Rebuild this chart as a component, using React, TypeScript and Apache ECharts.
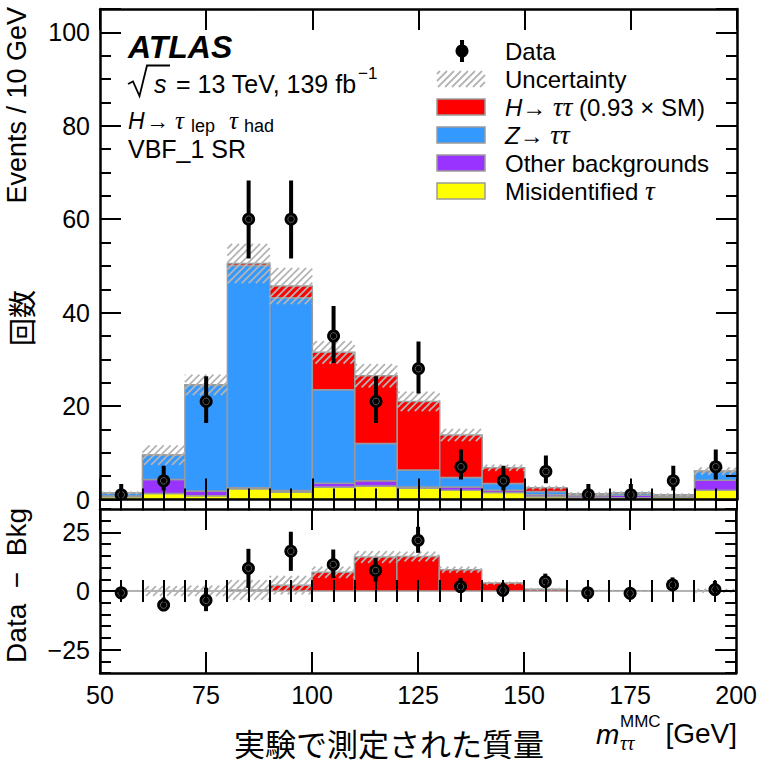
import React, { useEffect, useRef } from "react";
import * as echarts from "echarts";

// ---------- data ----------
const binLow = [50, 60, 70, 80, 90, 100, 110, 120, 130, 140, 150, 160, 170, 180, 190];
const binWidth = 10;
const binCenters = [55, 65, 75, 85, 95, 105, 115, 125, 135, 145, 155, 165, 175, 185, 195];

const misidTau = [0.6, 1.3, 0.8, 2.3, 1.6, 2.7, 2.9, 2.4, 2.0, 1.5, 0.6, 0.4, 0.4, 0.5, 2.0];
const otherBkg = [0.15, 3.0, 1.0, 0.2, 0.3, 0.8, 1.1, 0.3, 0.7, 0.5, 0.4, 0.4, 0.5, 0.3, 2.1];
const zTauTau = [0.6, 5.2, 22.7, 47.6, 41.3, 20.0, 8.0, 3.6, 2.0, 1.4, 0.7, 0.3, 0.45, 0.15, 1.9];
const hTauTau = [0.05, 0.0, 0.05, 0.4, 2.5, 8.0, 14.5, 14.7, 9.1, 3.4, 0.8, 0.15, 0.1, 0.05, 0.1];
const uncertainty = [0.3, 2.1, 2.2, 4.2, 3.9, 2.4, 2.5, 2.1, 1.3, 0.65, 0.4, 0.3, 0.3, 0.3, 0.8];

const dataCounts = [1, 4, 21, 60, 60, 35, 21, 28, 7, 4, 6, 1, 1, 4, 7];
const dataLow = [0.17, 1.9, 16.4, 51.6, 51.6, 29.2, 16.4, 22.7, 4.3, 1.9, 3.5, 0.17, 0.17, 1.9, 4.3];
const dataHigh = [3.3, 7.2, 26.4, 68.3, 68.3, 41.4, 26.4, 33.8, 10.7, 7.2, 9.4, 3.3, 3.3, 7.2, 10.7];

const diffValues = [-0.8, -6.0, -4.0, 9.7, 17.0, 11.3, 8.7, 21.6, 1.9, 0.3, 4.0, -0.8, -1.0, 2.6, 0.6];
const diffLow = [-1.6, -8.1, -8.6, 1.3, 8.6, 5.5, 4.1, 16.3, -0.8, -1.8, 1.5, -1.6, -1.8, 0.5, -2.1];
const diffHigh = [1.5, -2.8, 1.4, 18.0, 25.3, 17.7, 14.1, 27.4, 5.6, 3.5, 7.4, 1.5, 1.3, 5.8, 4.3];

const xTicksMajor = [50, 75, 100, 125, 150, 175, 200];
const yTicksUpper = [0, 20, 40, 60, 80, 100];
const yTicksLower = [-25, 0, 25];

const componentColors = ["#ffff00", "#9933ff", "#3399ff", "#ff0000"];
const components = [misidTau, otherBkg, zTauTau, hTauTau];

// ---------- styling ----------
const FONT = "'Liberation Sans', Arial, Helvetica, sans-serif";
const SERIF = "'Liberation Serif', 'DejaVu Serif', serif";
const CJK = "'Noto Sans CJK JP', 'Noto Sans CJK SC', sans-serif";
const HATCH = "#b4b4b4";
const OUTLINE = "#9a9a9a";

function hatchGroup(x0: number, x1: number, yTop: number, yBot: number) {
  const step = 7;
  const children: any[] = [];
  const cStart = Math.ceil((x0 + yTop) / step) * step;
  for (let c = cStart; c <= x1 + yBot; c += step) {
    const xa = Math.max(x0, c - yBot);
    const xb = Math.min(x1, c - yTop);
    if (xb > xa + 0.3) {
      children.push({
        type: "line",
        shape: { x1: xa, y1: c - xa, x2: xb, y2: c - xb },
        style: { stroke: HATCH, lineWidth: 1.8 },
      });
    }
  }
  return { type: "group", children };
}

const rectRender = (params: any, api: any) => {
  const p0 = api.coord([api.value(0), api.value(2)]);
  const p1 = api.coord([api.value(1), api.value(3)]);
  const ci = api.value(4);
  return {
    type: "rect",
    shape: { x: p0[0], y: p1[1], width: p1[0] - p0[0], height: p0[1] - p1[1] },
    style: { fill: componentColors[ci], stroke: OUTLINE, lineWidth: 1.5 },
  };
};

const hatchRender = (params: any, api: any) => {
  const p0 = api.coord([api.value(0), api.value(2)]);
  const p1 = api.coord([api.value(1), api.value(3)]);
  return hatchGroup(p0[0], p1[0], p1[1], p0[1]);
};

const dataRender = (params: any, api: any) => {
  const c = api.coord([api.value(0), api.value(1)]);
  const lo = api.coord([api.value(0), api.value(2)]);
  const hi = api.coord([api.value(0), api.value(3)]);
  return {
    type: "group",
    children: [
      { type: "line", shape: { x1: c[0], y1: lo[1], x2: c[0], y2: hi[1] }, style: { stroke: "#000", lineWidth: 4 } },
      { type: "circle", shape: { cx: c[0], cy: c[1], r: 6.5 }, style: { fill: "#000" } },
      { type: "circle", shape: { cx: c[0], cy: c[1], r: 3.3 }, style: { fill: "none", stroke: "#5a5a5a", lineWidth: 1 } },
    ],
  };
};

function buildOption() {
  const stackData: any[] = [];
  const totals: number[] = [];
  binLow.forEach((lo, i) => {
    let base = 0;
    components.forEach((arr, k) => {
      stackData.push([lo, lo + binWidth, base, base + arr[i], k]);
      base += arr[i];
    });
    totals.push(base);
  });
  const upperHatch = binLow.map((lo, i) => [lo, lo + binWidth, totals[i] - uncertainty[i], totals[i] + uncertainty[i]]);
  const upperData = binCenters.map((x, i) => [x, dataCounts[i], dataLow[i], dataHigh[i]]);
  const lowerSignal = binLow.map((lo, i) => [lo, lo + binWidth, 0, hTauTau[i], 3]);
  const lowerHatch = binLow.map((lo, i) => [lo, lo + binWidth, hTauTau[i] - uncertainty[i], hTauTau[i] + uncertainty[i]]);
  const lowerData = binCenters.map((x, i) => [x, diffValues[i], diffLow[i], diffHigh[i]]);

  const line = { show: true, onZero: false, lineStyle: { color: "#000", width: 2.5 } };
  const noLine = { show: false };
  const tick = (len: number, vals?: number[]) => ({
    show: true,
    inside: true,
    length: len,
    lineStyle: { color: "#000", width: 2 },
    ...(vals ? { customValues: vals } : {}),
  });
  const fmt = (v: number) => (v < 0 ? "\u2212" + Math.abs(v) : String(v));
  const labelOff = { show: false };
  const labelStyle = { fontFamily: FONT, fontSize: 25, color: "#000" };

  const xBase = { type: "value", min: 50, max: 200, splitLine: { show: false }, z: 10 };
  const xAxis: any[] = [];
  [0, 1].forEach((g) => {
    xAxis.push({ ...xBase, gridIndex: g, position: "bottom", interval: 25, axisLine: line, axisTick: tick(21),
      axisLabel: g === 1 ? { ...labelStyle, show: true, margin: 9, customValues: xTicksMajor } : labelOff });
    xAxis.push({ ...xBase, gridIndex: g, position: "bottom", interval: 5, axisLine: noLine, axisTick: tick(11), axisLabel: labelOff });
    xAxis.push({ ...xBase, gridIndex: g, position: "top", interval: 25, axisLine: line, axisTick: tick(21), axisLabel: labelOff });
    xAxis.push({ ...xBase, gridIndex: g, position: "top", interval: 5, axisLine: noLine, axisTick: tick(11), axisLabel: labelOff });
  });

  const yU = { type: "value", min: 0, max: 105, splitLine: { show: false }, z: 10, gridIndex: 0 };
  const yL = { type: "value", min: -35, max: 35, splitLine: { show: false }, z: 10, gridIndex: 1 };
  const yAxis: any[] = [
    { ...yU, position: "left", interval: 20, axisLine: line, axisTick: tick(21),
      axisLabel: { ...labelStyle, show: true, margin: 10, customValues: yTicksUpper } },
    { ...yU, position: "left", interval: 5, axisLine: noLine, axisTick: tick(11), axisLabel: labelOff },
    { ...yU, position: "right", interval: 20, axisLine: line, axisTick: tick(21), axisLabel: labelOff },
    { ...yU, position: "right", interval: 5, axisLine: noLine, axisTick: tick(11), axisLabel: labelOff },
    { ...yL, position: "left", axisLine: line, axisTick: tick(21, yTicksLower),
      axisLabel: { ...labelStyle, show: true, margin: 10, customValues: yTicksLower, formatter: fmt } },
    { ...yL, position: "left", interval: 5, axisLine: noLine, axisTick: tick(11), axisLabel: labelOff },
    { ...yL, position: "right", axisLine: line, axisTick: tick(21, yTicksLower), axisLabel: labelOff },
    { ...yL, position: "right", interval: 5, axisLine: noLine, axisTick: tick(11), axisLabel: labelOff },
  ];

  const custom = (name: string, data: any[], render: any, xi: number, yi: number, z: number) => ({
    type: "custom",
    name,
    data,
    renderItem: render,
    xAxisIndex: xi,
    yAxisIndex: yi,
    z,
    silent: true,
    clip: true,
    encode: { x: [0, 1], y: [2, 3] },
  });

  const series: any[] = [
    custom("stack", stackData, rectRender, 0, 0, 2),
    custom("Uncertainty", upperHatch, hatchRender, 0, 0, 3),
    { ...custom("Data", upperData, dataRender, 0, 0, 5), encode: { x: 0, y: [1, 2, 3] } },
    custom("signal", lowerSignal, rectRender, 4, 4, 2),
    custom("Uncertainty lower", lowerHatch, hatchRender, 4, 4, 3),
    { ...custom("Data lower", lowerData, dataRender, 4, 4, 5), encode: { x: 0, y: [1, 2, 3] } },
  ];

  const txt = (text: string, x: number, y: number, size: number, extra: any = {}) => ({
    type: "text",
    x,
    y,
    z: 100,
    style: { text, fontFamily: FONT, fontSize: size, fill: "#000", align: "left", verticalAlign: "middle", ...extra },
  });

  const legendRows = [
    { y: 51, kind: "data" },
    { y: 79, kind: "hatch" },
    { y: 107, kind: 3 },
    { y: 135, kind: 2 },
    { y: 163, kind: 1 },
    { y: 191, kind: 0 },
  ];
  const legendGraphics: any[] = [];
  legendRows.forEach((r) => {
    if (r.kind === "data") {
      legendGraphics.push({ type: "line", z: 100, shape: { x1: 462, y1: 40, x2: 462, y2: 62 }, style: { stroke: "#000", lineWidth: 4 } });
      legendGraphics.push({ type: "circle", z: 100, shape: { cx: 462, cy: 51, r: 6.5 }, style: { fill: "#000" } });
    } else if (r.kind === "hatch") {
      legendGraphics.push({ ...hatchGroup(437, 485, r.y - 8, r.y + 8), z: 100 });
    } else {
      legendGraphics.push({ type: "rect", z: 100, shape: { x: 437, y: r.y - 8, width: 48, height: 16 },
        style: { fill: componentColors[r.kind as number], stroke: OUTLINE, lineWidth: 1.5 } });
    }
  });
  const it = { fontFamily: FONT, fontSize: 24, fontStyle: "italic", fill: "#000" };
  const rm = { fontFamily: FONT, fontSize: 24, fill: "#000" };
  const tau = { fontFamily: SERIF, fontSize: 27, fontStyle: "italic", fill: "#000" };
  const rich = { i: it, r: rm, t: tau };
  legendGraphics.push(txt("Data", 505, 51, 24));
  legendGraphics.push(txt("Uncertainty", 505, 79, 24));
  legendGraphics.push(txt("{i|H}{r|\u2192 }{t|\u03c4\u03c4}{r| (0.93 \u00d7 SM)}", 505, 107, 24, { rich }));
  legendGraphics.push(txt("{i|Z}{r|\u2192 }{t|\u03c4\u03c4}", 505, 135, 24, { rich }));
  legendGraphics.push(txt("Other backgrounds", 505, 163, 24));
  legendGraphics.push(txt("{r|Misidentified }{t|\u03c4}", 505, 191, 24, { rich }));

  const labels: any[] = [
    txt("ATLAS", 128, 47, 32, { fontWeight: "bold", fontStyle: "italic" }),
    { type: "polyline", z: 100, shape: { points: [[128, 84], [133, 81.5], [139.5, 96], [147, 65.5], [170, 65.5]] },
      style: { stroke: "#000", lineWidth: 1.8, fill: "none" } },
    txt("s", 154, 84, 25, { fontStyle: "italic" }),
    txt("= 13 TeV, 139 fb", 176, 84, 25),
    txt("\u22121", 358, 73, 17),
    txt("H", 128, 121, 23, { fontStyle: "italic" }),
    txt("\u2192", 146, 121, 23),
    txt("\u03c4", 175, 120, 25, { fontStyle: "italic", fontFamily: SERIF }),
    txt("lep", 191, 126, 18),
    txt("\u03c4", 229, 120, 25, { fontStyle: "italic", fontFamily: SERIF }),
    txt("had", 244, 126, 18),
    txt("VBF_1 SR", 128, 149, 25),
    txt("[GeV]", 737, 733, 28, { align: "right" }),
    txt("m", 596, 734, 28, { fontStyle: "italic" }),
    txt("MMC", 620, 721, 17),
    txt("\u03c4\u03c4", 620, 743, 20, { fontStyle: "italic", fontFamily: SERIF }),
    txt("\u5b9f\u9a13\u3067\u6e2c\u5b9a\u3055\u308c\u305f\u8cea\u91cf", 389, 742, 31, { align: "center", fontFamily: CJK }),
  ];
  const rotated: any[] = [
    txt("Events / 10 GeV", 17, 7, 27, { align: "right" }),
    txt("\u56de\u6570", 21, 318, 28, { align: "center", fontFamily: CJK }),
    txt("Data  \u2212  Bkg", 16, 508, 28, { align: "right" }),
  ];
  rotated.forEach((r) => (r.rotation = Math.PI / 2));

  return {
    animation: false,
    backgroundColor: "#fff",
    grid: [
      { left: 100, top: 9, width: 637, height: 490.5, containLabel: false },
      { left: 100, top: 509, width: 637, height: 164, containLabel: false },
    ],
    xAxis,
    yAxis,
    series,
    graphic: [...labels, ...rotated, ...legendGraphics],
  };
}

export default function App() {
  const ref = useRef<HTMLDivElement>(null);
  useEffect(() => {
    document.body.style.margin = "0";
    const chart = echarts.init(ref.current!, null, { renderer: "svg" });
    chart.setOption(buildOption() as any);
    return () => chart.dispose();
  }, []);
  return (
    <div
      ref={ref}
      style={{ position: "absolute", left: 0, top: 0, width: 760, height: 764, background: "#fff" }}
    />
  );
}
